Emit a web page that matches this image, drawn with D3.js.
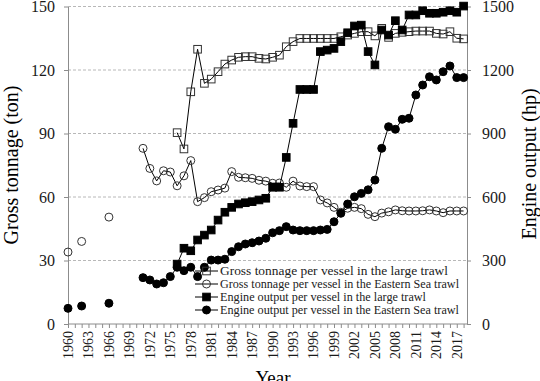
<!DOCTYPE html>
<html>
<head>
<meta charset="utf-8">
<script src="https://cdn.jsdelivr.net/npm/d3@7"></script>
<style>
  body { margin: 0; background: #fff; }
  svg { display: block; font-family: "Liberation Serif", "Times New Roman", serif; }
  .grid line { stroke: #b8b8b8; stroke-dasharray: 3,2; }
  .axis path, .axis line { stroke: #8c8c8c; }
  .axis text { fill: #1a1a1a; }
</style>
</head>
<body>
<div id="chart"></div>
<script>
// Years with data for each series
var yearsES = [1960, 1962, 1966, 1971, 1972, 1973, 1974, 1975, 1976, 1977, 1978, 1979, 1980,
  1981, 1982, 1983, 1984, 1985, 1986, 1987, 1988, 1989, 1990, 1991, 1992, 1993, 1994, 1995,
  1996, 1997, 1998, 1999, 2000, 2001, 2002, 2003, 2004, 2005, 2006, 2007, 2008, 2009, 2010,
  2011, 2012, 2013, 2014, 2015, 2016, 2017, 2018];
var yearsLT = [1976, 1977, 1978, 1979, 1980, 1981, 1982, 1983, 1984, 1985, 1986, 1987, 1988,
  1989, 1990, 1991, 1992, 1993, 1994, 1995, 1996, 1997, 1998, 1999, 2000, 2001, 2002, 2003,
  2004, 2005, 2006, 2007, 2008, 2009, 2010, 2011, 2012, 2013, 2014, 2015, 2016, 2017, 2018];

// Gross tonnage (ton), left axis
var gtLarge = [90.4, 82.7, 109.7, 129.8, 113.7, 115.7, 119.2, 122.8, 124.7, 126, 126.3, 126.3,
  125.5, 125.2, 126, 127, 131, 133.4, 134.9, 134.9, 134.9, 134.9, 134.9, 134.9, 135.7, 136.5,
  137.3, 138.1, 138.1, 136.1, 139.7, 135.4, 137.3, 137.8, 138.1, 138.4, 138.4, 138.4, 137.3,
  137, 138.1, 135, 134.7];
var gtEast = [34, 39, 50.5, 83, 73.5, 67.6, 72.4, 71.8, 65.3, 70, 77.2, 57.8, 59.7, 62.5, 63.3,
  64.2, 72, 69.3, 69.1, 68.8, 67.9, 67.5, 66.5, 66.6, 64.6, 67.5, 65.2, 64.9, 64.9, 58.6, 57.2,
  55.1, 52.8, 54.7, 55.1, 54.5, 51.8, 50.7, 52.4, 53, 53.9, 53.5, 53.4, 53.4, 53.5, 53.9, 53.4,
  52.6, 53.4, 53.4, 53.4];

// Engine output (hp), right axis
var hpLarge = [283, 358, 346, 397, 420, 444, 491, 528, 551, 567, 573, 578, 586, 594, 646, 646,
  787, 948, 1108, 1108, 1108, 1287, 1294, 1302, 1334, 1376, 1408, 1412, 1287, 1224, 1389, 1365,
  1433, 1389, 1460, 1460, 1480, 1468, 1468, 1473, 1480, 1473, 1502];
var hpEast = [74, 85, 98, 219, 208, 189, 195, 224, 268, 252, 268, 224, 268, 302, 302, 306, 342,
  365, 378, 384, 392, 405, 431, 441, 460, 444, 441, 441, 441, 444, 447, 483, 523, 567, 601, 617,
  634, 680, 830, 932, 920, 967, 972, 1082, 1129, 1168, 1153, 1192, 1219, 1164, 1164];

var leftTicks = [0, 30, 60, 90, 120, 150];
var rightTicks = [0, 300, 600, 900, 1200, 1500];
var yearLabels = [1960, 1963, 1966, 1969, 1972, 1975, 1978, 1981, 1984, 1987, 1990, 1993,
  1996, 1999, 2002, 2005, 2008, 2011, 2014, 2017];
var legendLabels = [
  "Gross tonnage per vessel in the large trawl",
  "Gross tonnage per vessel in the Eastern Sea trawl",
  "Engine output per vessel in the large trawl",
  "Engine output per vessel in the Eastern Sea trawl"
];

var width = 540, height = 381;
var plotL = 68, plotR = 467, plotT = 6.5, plotB = 324;
var serif = '"Liberation Serif", "Times New Roman", serif';

var svg = d3.select('#chart').append('svg')
  .attr('width', width)
  .attr('height', height);

var xScale = d3.scaleLinear().domain([1960, 2018.5]).range([plotL, plotR]);
var yLeft = d3.scaleLinear().domain([0, 150]).range([plotB, plotT]);
var yRight = d3.scaleLinear().domain([0, 1500]).range([plotB, plotT]);

// gridlines
svg.append('g').attr('class', 'grid')
  .selectAll('line').data(leftTicks.slice(1)).enter()
  .append('line')
  .attr('x1', plotL).attr('x2', plotR)
  .attr('y1', d => yLeft(d)).attr('y2', d => yLeft(d));

// axes
var xAxis = d3.axisBottom(xScale)
  .tickValues(d3.range(1960, 2019))
  .tickSize(4)
  .tickFormat('');
var gx = svg.append('g').attr('class', 'axis')
  .attr('transform', 'translate(0,' + plotB + ')')
  .call(xAxis);
gx.select('.domain').attr('d', 'M' + plotL + ',0H' + plotR);

svg.append('g').attr('class', 'xlabels')
  .selectAll('text').data(yearLabels).enter()
  .append('text')
  .attr('transform', d => 'translate(' + xScale(d) + ',' + (plotB + 7) + ') rotate(-90)')
  .attr('dy', '0.35em')
  .attr('text-anchor', 'end')
  .attr('font-size', 14)
  .attr('fill', '#1a1a1a')
  .text(d => d);

var gl = svg.append('g').attr('class', 'axis')
  .attr('transform', 'translate(' + plotL + ',0)')
  .call(d3.axisLeft(yLeft).tickValues(leftTicks).tickFormat(d3.format('d'))
    .tickSize(4).tickSizeOuter(0).tickPadding(9));
gl.attr('font-family', serif).attr('font-size', 16);

var gr = svg.append('g').attr('class', 'axis')
  .attr('transform', 'translate(' + plotR + ',0)')
  .call(d3.axisRight(yRight).tickValues(rightTicks).tickFormat(d3.format('d'))
    .tickSize(4).tickSizeOuter(0).tickPadding(11));
gr.attr('font-family', serif).attr('font-size', 16);

// axis titles
svg.append('text')
  .attr('transform', 'translate(18,165) rotate(-90)')
  .attr('text-anchor', 'middle')
  .attr('font-size', 20)
  .text('Gross tonnage (ton)');
svg.append('text')
  .attr('transform', 'translate(536,164) rotate(-90)')
  .attr('text-anchor', 'middle')
  .attr('font-size', 20)
  .text('Engine output (hp)');
svg.append('text')
  .attr('x', 273).attr('y', 384)
  .attr('text-anchor', 'middle')
  .attr('font-size', 19)
  .text('Year');

// series
var toPoints = (years, values)=> {
  return years.map((yr, i)=> { return {year: yr, value: values[i]}; });
};

var series = [
  {pts: toPoints(yearsLT, gtLarge), y: yLeft, shape: 'square', fill: 'none', stroke: '#333'},
  {pts: toPoints(yearsES, gtEast), y: yLeft, shape: 'circle', fill: 'none', stroke: '#333'},
  {pts: toPoints(yearsLT, hpLarge), y: yRight, shape: 'square', fill: '#000', stroke: '#000'},
  {pts: toPoints(yearsES, hpEast), y: yRight, shape: 'circle', fill: '#000', stroke: '#000'}
];

function drawMarkers(g, coords, s) {
  if (s.shape === 'square') {
    g.selectAll('rect.m').data(coords).enter()
      .append('rect').attr('class', 'm')
      .attr('x', d => d[0] - 3.8).attr('y', d => d[1] - 3.8)
      .attr('width', 7.6).attr('height', 7.6)
      .attr('fill', s.fill).attr('stroke', s.stroke).attr('stroke-width', 1);
  } else {
    g.selectAll('circle.m').data(coords).enter()
      .append('circle').attr('class', 'm')
      .attr('cx', d => d[0]).attr('cy', d => d[1])
      .attr('r', 4)
      .attr('fill', s.fill).attr('stroke', s.stroke).attr('stroke-width', 1);
  }
}

series.forEach((s)=> {
  // only connect consecutive years
  var segs = [];
  s.pts.forEach((p, i)=> {
    if (i > 0 && p.year - s.pts[i - 1].year === 1) segs[segs.length - 1].push(p);
    else segs.push([p]);
  });
  var line = d3.line().x(d => xScale(d.year)).y(d => s.y(d.value));
  var g = svg.append('g');
  g.selectAll('path').data(segs.filter(d => d.length > 1)).enter()
    .append('path')
    .attr('d', line)
    .attr('fill', 'none')
    .attr('stroke', '#000')
    .attr('stroke-width', 1);
  drawMarkers(g, s.pts.map(d => [xScale(d.year), s.y(d.value)]), s);
});

// legend (text widths follow the reference)
var legendWidths = [228, 239, 206, 239];
var legend = svg.append('g').attr('class', 'legend');
legendLabels.forEach((lab, i)=> {
  var ly = 271 + i * 13;
  var row = legend.append('g');
  row.append('line')
    .attr('x1', 195).attr('x2', 218)
    .attr('y1', ly).attr('y2', ly)
    .attr('stroke', '#000');
  drawMarkers(row, [[206.5, ly]], series[i]);
  row.append('text')
    .attr('x', 220).attr('y', ly)
    .attr('dy', '0.33em')
    .attr('font-size', 13.3)
    .attr('fill', '#222')
    .attr('textLength', legendWidths[i])
    .attr('lengthAdjust', 'spacingAndGlyphs')
    .text(lab);
});
</script>
</body>
</html>
